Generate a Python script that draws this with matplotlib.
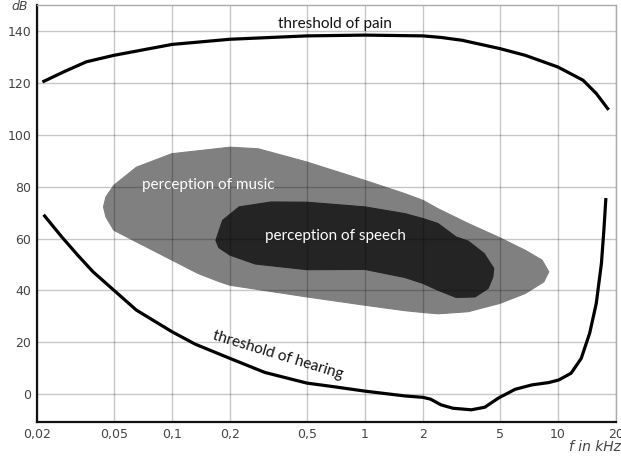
import matplotlib
matplotlib.use("Agg")
import matplotlib.pyplot as plt
from matplotlib.ticker import FixedLocator, NullLocator

# frequency in kHz, level in dB
pain_f = [0.0217, 0.028, 0.036, 0.05, 0.1, 0.2, 0.5, 1, 2, 2.48, 3.19, 5, 6.78, 10, 13.5, 15.8, 18.1]
pain_db = [120.6, 124.5, 128.1, 130.6, 134.8, 136.8, 138.1, 138.4, 138.1, 137.5, 136.4, 133.2, 130.6,
           126.1, 121.0, 115.9, 110.1]

hearing_f = [0.0219, 0.0269, 0.0325, 0.039, 0.05, 0.0655, 0.1, 0.132, 0.2, 0.303, 0.5, 0.69, 1,
             1.61, 2, 2.19, 2.48, 2.86, 3.56, 4.18, 4.91, 6.0, 7.33, 8.97, 10.1, 11.7, 13.2,
             14.6, 15.8, 16.8, 17.3, 17.7]
hearing_db = [68.7, 60.6, 53.6, 47.2, 40.1, 32.4, 24.1, 19.3, 13.8, 8.4, 4.3, 2.9, 1.2,
              -0.65, -1.2, -1.9, -4.1, -5.4, -6.0, -5.0, -1.5, 1.9, 3.6, 4.5, 5.5, 8.1, 13.8,
              23.5, 35.0, 50.4, 63.2, 75.0]

music_f = [0.0442, 0.0455, 0.05, 0.0655, 0.1, 0.2, 0.28, 0.5, 1, 1.61, 2, 2.39, 3.43, 5, 6.76,
           8.27, 8.97, 8.45, 6.76, 5, 3.43, 2.39, 2, 1.61, 1, 0.5, 0.2, 0.177, 0.137, 0.1,
           0.0655, 0.05, 0.0455]
music_db = [72.2, 76.0, 80.5, 87.5, 92.7, 95.2, 94.6, 89.5, 82.4, 77.3, 74.7, 71.5, 65.8, 60.3, 55.5,
            51.7, 47.2, 43.3, 38.8, 35.0, 31.8, 31.0, 31.5, 32.2, 34.3, 37.5, 42.0, 43.3, 46.5, 51.7,
            58.7, 63.2, 68.3]

speech_f = [0.169, 0.183, 0.223, 0.327, 0.5, 1, 1.61, 2, 2.39, 2.97, 3.43, 4.15, 4.65, 4.6,
            4.35, 3.72, 2.97, 2.39, 2, 1.61, 1, 0.5, 0.27, 0.2, 0.175]
speech_db = [59.3, 67.0, 72.2, 74.1, 74.0, 72.2, 69.6, 67.7, 65.8, 60.6, 59.0, 54.2, 48.5, 45.2,
             40.8, 37.5, 37.3, 40.1, 42.7, 45.0, 48.1, 48.0, 50.2, 53.6, 56.5]

x_ticks = [0.02, 0.05, 0.1, 0.2, 0.5, 1, 2, 5, 10, 20]
x_labels = ["0,02", "0,05", "0,1", "0,2", "0,5", "1", "2", "5", "10", "20"]
y_ticks = [0, 20, 40, 60, 80, 100, 120, 140]

label_font = ["Lato", "DejaVu Sans"]

fig = plt.figure(figsize=(6.21, 4.59), dpi=100)
ax = fig.add_axes([0.0596, 0.0806, 0.9324, 0.9085])

ax.set_xscale("log")
ax.set_xlim(0.02, 20)
ax.set_ylim(-10.7, 150)

ax.xaxis.set_major_locator(FixedLocator(x_ticks))
ax.xaxis.set_minor_locator(NullLocator())
ax.set_xticklabels(x_labels)
ax.set_yticks(y_ticks)
ax.tick_params(length=0, labelsize=9, colors="#444444", pad=4)
ax.grid(True, color="black", alpha=0.22, linewidth=1.0)
ax.set_axisbelow("line")

for side in ("left", "bottom"):
    ax.spines[side].set_color("#111111")
    ax.spines[side].set_linewidth(1.6)
for side in ("top", "right"):
    ax.spines[side].set_color("#aaaaaa")
    ax.spines[side].set_linewidth(1.0)

ax.fill(music_f, music_db, color="#808080", lw=0.8, ec="#808080", joinstyle="round", zorder=1)
ax.fill(speech_f, speech_db, color="#242424", lw=0.8, ec="#242424", joinstyle="round", zorder=1.1)

ax.plot(pain_f, pain_db, color="black", lw=2.3, solid_joinstyle="round", zorder=4)
ax.plot(hearing_f, hearing_db, color="black", lw=2.3, solid_joinstyle="round", zorder=4)

ax.text(0.155, 80.5, "perception of music", color="white", fontsize=11,
        family=label_font, ha="center", va="center", zorder=5)
ax.text(0.70, 61, "perception of speech", color="white", fontsize=11,
        family=label_font, ha="center", va="center", zorder=5)
ax.text(0.70, 140.0, "threshold of pain", color="#111111", fontsize=11,
        family=label_font, ha="center", va="bottom", zorder=5)
ax.text(0.353, 15, "threshold of hearing", color="#111111", fontsize=11,
        family=label_font, ha="center", va="center", rotation=-17, zorder=5)

fig.text(0.019, 0.986, "dB", fontsize=9, style="italic", color="#444444",
         ha="left", va="center")
fig.text(1.0, 0.026, "f in kHz", fontsize=10, style="italic", color="#444444",
         ha="right", va="center")

fig.savefig("out.png", dpi=100)
